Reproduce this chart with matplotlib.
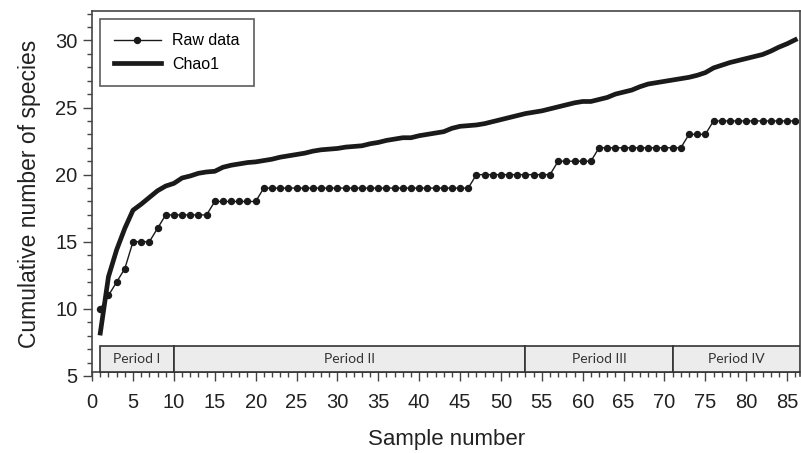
import numpy as np
import matplotlib.pyplot as plt
from matplotlib.patches import Rectangle
from matplotlib.ticker import MultipleLocator

plt.rcParams['font.family'] = ['Liberation Sans', 'DejaVu Sans']

# amostras 1..86
samples = list(range(1, 87))

# curva observada (escada)
raw_data = [10, 11, 12, 13, 15, 15, 15, 16, 17, 17,
            17, 17, 17, 17, 18, 18, 18, 18, 18, 18,
            19, 19, 19, 19, 19, 19, 19, 19, 19, 19,
            19, 19, 19, 19, 19, 19, 19, 19, 19, 19,
            19, 19, 19, 19, 19, 19, 20, 20, 20, 20,
            20, 20, 20, 20, 20, 20, 21, 21, 21, 21,
            21, 22, 22, 22, 22, 22, 22, 22, 22, 22,
            22, 22, 23, 23, 23, 24, 24, 24, 24, 24,
            24, 24, 24, 24, 24, 24]

# estimador Chao1
chao1 = [8.2, 12.4, 14.4, 16.0, 17.35, 17.8, 18.3, 18.8, 19.15, 19.35,
         19.75, 19.9, 20.1, 20.2, 20.25, 20.55, 20.7, 20.8, 20.9, 20.95,
         21.05, 21.15, 21.3, 21.4, 21.5, 21.6, 21.75, 21.85, 21.9, 21.95,
         22.05, 22.1, 22.15, 22.3, 22.4, 22.55, 22.65, 22.75, 22.75, 22.9,
         23.0, 23.1, 23.2, 23.45, 23.6, 23.65, 23.7, 23.8, 23.95, 24.1,
         24.25, 24.4, 24.55, 24.65, 24.75, 24.9, 25.05, 25.2, 25.35, 25.45,
         25.45, 25.6, 25.75, 26.0, 26.15, 26.3, 26.55, 26.75, 26.85, 26.95,
         27.05, 27.15, 27.25, 27.4, 27.6, 27.95, 28.15, 28.35, 28.5, 28.65,
         28.8, 28.95, 29.2, 29.5, 29.75, 30.05]

# periodos de amostragem
period_names = ['Period I', 'Period II', 'Period III', 'Period IV']
period_edges = [1, 10, 53, 71, 86.6]

fig = plt.figure(figsize=(8.01, 4.53), dpi=100)
ax = fig.add_axes([0.115, 0.17, 0.884, 0.806])

ax.plot(samples, raw_data, color='#1a1a1a', lw=1.0, marker='o', ms=4.3,
        label='Raw data')
ax.plot(samples, chao1, color='#1a1a1a', lw=3.4, label='Chao1')

ax.set_xlim(0, 86.6)
ax.set_ylim(5, 32.2)
ax.spines['bottom'].set_position(('data', 5.3))

for i, name in enumerate(period_names):
    x0, x1 = period_edges[i], period_edges[i + 1]
    ax.add_patch(Rectangle((x0, 5.3), x1 - x0, 1.95, facecolor='#ececec',
                           edgecolor='#333333', lw=1.2, zorder=3))
    ax.text((x0 + x1) / 2, 6.28, name, ha='center', va='center',
            fontsize=10, family=['Lato', 'DejaVu Sans'], color='#333333',
            zorder=4)

ax.xaxis.set_major_locator(MultipleLocator(5))
ax.xaxis.set_minor_locator(MultipleLocator(1))
ax.yaxis.set_major_locator(MultipleLocator(5))
ax.yaxis.set_minor_locator(MultipleLocator(1))
ax.tick_params(which='major', direction='out', length=6.5, width=1,
               color='#444444', labelsize=14.5, labelcolor='#222222')
ax.tick_params(which='minor', direction='out', length=3.5, width=1,
               color='#444444')
ax.tick_params(axis='x', which='major', pad=9)
ax.tick_params(axis='y', which='major', pad=4)
for s in ax.spines.values():
    s.set_color('#444444')
    s.set_linewidth(1.2)

ax.set_xlabel('Sample number', fontsize=16, labelpad=12, color='#222222')
ax.set_ylabel('Cumulative number of species', fontsize=16.5, labelpad=10,
              color='#222222')

leg = ax.legend(loc='upper left', fontsize=11.5, frameon=True, fancybox=False,
                edgecolor='#333333', borderpad=0.9, handlelength=2.9,
                handletextpad=0.7, labelspacing=0.55, borderaxespad=0,
                bbox_to_anchor=(0.011, 0.978))
leg.get_frame().set_linewidth(1.2)

fig.savefig('out.png', dpi=100)
